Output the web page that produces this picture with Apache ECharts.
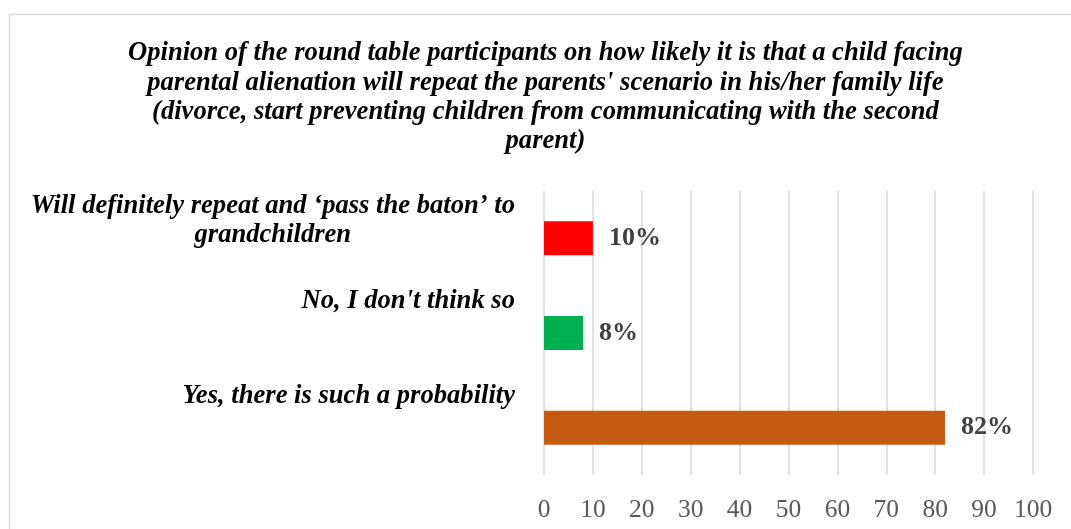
<!DOCTYPE html>
<html>
<head>
<meta charset="utf-8">
<script src="https://cdn.jsdelivr.net/npm/echarts@6/dist/echarts.min.js"></script>
<style>
html,body{margin:0;padding:0;background:#fff;}
#chart{width:1071px;height:529px;}
</style>
</head>
<body>
<div id="chart"></div>
<script>
var titleLines = [
  "Opinion of the round table participants on how likely it is that a child facing",
  "parental alienation will repeat the parents' scenario in his/her family life",
  "(divorce, start preventing children from communicating with the second",
  "parent)"
];
var categories = [
  "Will definitely repeat and \u2018pass the baton\u2019 to\ngrandchildren",
  "No, I don't think so",
  "Yes, there is such a probability"
];
var values = [10, 8, 82];
var barColors = ["#FF0000", "#00B050", "#C55A11"];
var axisMin = 0, axisMax = 100, axisStep = 10;

var serif = "'Liberation Serif', 'Times New Roman', serif";
var chart = echarts.init(document.getElementById('chart'), null, {renderer: 'canvas'});
chart.setOption({
  animation: false,
  backgroundColor: '#ffffff',
  graphic: [{
    type: 'rect', silent: true, z: -1,
    shape: {x: 9.5, y: 14.5, width: 1200, height: 700},
    style: {fill: 'none', stroke: '#d9d9d9', lineWidth: 1.5}
  }],
  title: {
    text: titleLines.map(function (l) { return '{t|' + l + '}'; }).join('\n'),
    left: 128,
    top: 39,
    padding: 0,
    textStyle: {
      fontFamily: serif, fontSize: 26.6, fontStyle: 'italic', fontWeight: 'bold',
      color: '#000000', lineHeight: 29.2,
      rich: {
        t: {
          fontFamily: serif, fontSize: 26.6, fontStyle: 'italic', fontWeight: 'bold',
          color: '#000000', lineHeight: 29.2, align: 'center'
        }
      }
    }
  },
  grid: {left: 544, right: 38, top: 191, bottom: 54, containLabel: false},
  xAxis: {
    type: 'value', min: axisMin, max: axisMax, interval: axisStep,
    axisLine: {show: false}, axisTick: {show: false},
    splitLine: {show: true, lineStyle: {color: '#d9d9d9', width: 1.5}},
    axisLabel: {fontFamily: serif, fontSize: 25.5, color: '#595959', margin: 22}
  },
  yAxis: {
    type: 'category', inverse: true, data: categories,
    axisLine: {show: false}, axisTick: {show: false}, splitLine: {show: false},
    axisLabel: {
      margin: 29, align: 'right', verticalAlign: 'middle', lineHeight: 29,
      padding: [0, 0, 6, 0],
      formatter: function (v) {
        var lines = v.split('\n');
        while (lines.length < 3) lines.push(' ');
        return lines.map(function (l) { return '{c|' + l + '}'; }).join('\n');
      },
      rich: {
        c: {
          fontFamily: serif, fontSize: 26.6, fontStyle: 'italic', fontWeight: 'bold',
          color: '#000000', align: 'center', lineHeight: 29
        }
      }
    }
  },
  series: [{
    type: 'bar',
    barWidth: 34,
    data: values.map(function (v, i) {
      return {value: v, itemStyle: {color: barColors[i]}};
    }),
    label: {
      show: true, position: 'right', distance: 16,
      formatter: '{c}%',
      fontFamily: serif, fontSize: 26, fontWeight: 'bold', color: '#404040'
    }
  }]
});
</script>
</body>
</html>
